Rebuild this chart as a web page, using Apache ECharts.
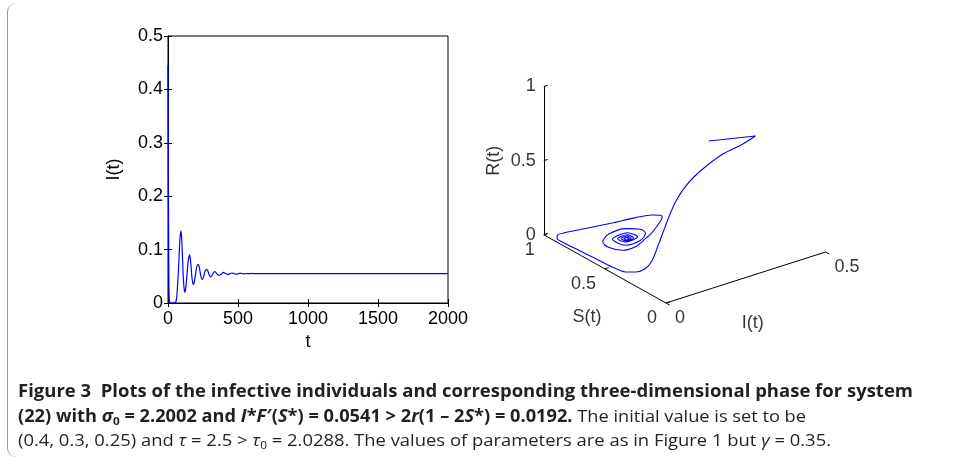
<!DOCTYPE html>
<html>
<head>
<meta charset="utf-8">
<title>Figure 3</title>
<script src="https://cdn.jsdelivr.net/npm/echarts@6/dist/echarts.min.js"></script>
<style>
  html, body { margin: 0; padding: 0; background: #fff; }
  #wrap { position: relative; width: 955px; height: 467px; overflow: hidden; background: #fff; }
  #chart { position: absolute; left: 0; top: 0; width: 955px; height: 467px; }
  #frame { position: absolute; left: 7px; top: 3px; width: 30px; height: 454px; z-index: 2;
           border-left: 1px solid #9a9a9a; border-radius: 9px 0 0 9px; pointer-events: none; }
  .cap { position: absolute; left: 18px; white-space: nowrap; transform-origin: 0 0; z-index: 2;
         font-family: "Open Sans", "Noto Sans", sans-serif; font-size: 17px; line-height: 20px; color: #231f20; }
  .cap b { font-weight: 700; }
  .cap sub { font-size: 11px; vertical-align: -3px; line-height: 0; }
</style>
</head>
<body>
<div id="wrap">
  <div id="chart"></div>
  <div id="frame"></div>
  <div class="cap" id="cap1" data-w="895" style="top:381px"><b>Figure 3&nbsp; Plots of the infective individuals and corresponding three-dimensional phase for system</b></div>
  <div class="cap" id="cap2" data-w="788" style="top:406px"><b>(22) with <i>σ</i><sub>0</sub> = 2.2002 and <i>I</i>*<i>F</i>′(<i>S</i>*) = 0.0541 &gt; 2<i>r</i>(1 – 2<i>S</i>*) = 0.0192.</b> The initial value is set to be</div>
  <div class="cap" id="cap3" data-w="813" style="top:430px">(0.4, 0.3, 0.25) and <i>τ</i> = 2.5 &gt; <i>τ</i><sub>0</sub> = 2.0288. The values of parameters are as in Figure 1 but <i>γ</i> = 0.35.</div>
</div>
<script>
// ---- left panel: I(t) against t ----
const tVals = [0, 2, 4, 6, 8, 12, 20, 40, 55, 62, 70, 78, 85, 93, 100, 107, 114, 121, 128, 136, 145, 155,
  163, 170, 177, 183, 190, 200, 208, 217, 225, 235, 245, 255, 265, 276, 285, 295, 305, 315, 326, 336,
  348, 364, 380, 395, 410, 425, 440, 455, 470, 485, 500, 515, 530, 545, 560, 580, 600, 620, 650, 700,
  800, 1000, 1500, 2000];
const iVals = [0.445, 0.3, 0.15, 0.05, 0.01, 0.002, 0, 0, 0.002, 0.01, 0.04, 0.08, 0.12, 0.135, 0.11,
  0.06, 0.03, 0.02, 0.03, 0.055, 0.08, 0.09, 0.075, 0.05, 0.037, 0.035, 0.042, 0.06, 0.07, 0.0725,
  0.065, 0.05, 0.044, 0.05, 0.06, 0.063, 0.06, 0.052, 0.049, 0.052, 0.057, 0.059, 0.055, 0.0515,
  0.054, 0.0572, 0.0555, 0.0535, 0.0545, 0.0562, 0.0555, 0.054, 0.0545, 0.0558, 0.0552, 0.0544,
  0.0552, 0.0549, 0.0553, 0.055, 0.0551, 0.055, 0.055, 0.055, 0.055, 0.055];

// ---- right panel: phase trajectory (S, I, R) ----
const sVals = [0.43, 0.42, 0.41, 0.40, 0.385, 0.37, 0.35, 0.33, 0.30, 0.27, 0.24, 0.21, 0.19, 0.25,
  0.331, 0.44, 0.577, 0.714, 0.849, 0.896, 0.906, 0.875, 0.776, 0.649, 0.537, 0.447, 0.397, 0.378,
  0.372, 0.361, 0.351, 0.354, 0.408, 0.523, 0.596, 0.596, 0.519, 0.433, 0.400, 0.391, 0.428, 0.555,
  0.485, 0.421, 0.452, 0.527, 0.474, 0.433, 0.454, 0.504, 0.464, 0.440, 0.455, 0.485, 0.461, 0.449, 0.460];
const iPhase = [0.299, 0.441, 0.391, 0.334, 0.277, 0.229, 0.190, 0.156, 0.124, 0.0965, 0.0694, 0.0372,
  0.0085, 0, 0, 0, 0, 0, 0, 0.002, 0.006, 0.02, 0.045, 0.08, 0.11, 0.128, 0.135, 0.133, 0.12, 0.095,
  0.07, 0.04, 0.02, 0.02, 0.03, 0.048, 0.072, 0.086, 0.089, 0.07, 0.037, 0.045, 0.065, 0.072, 0.046,
  0.05, 0.061, 0.064, 0.05, 0.052, 0.057, 0.059, 0.052, 0.054, 0.056, 0.056, 0.055];
const rVals = [0.689, 0.630, 0.606, 0.594, 0.561, 0.522, 0.480, 0.422, 0.357, 0.300, 0.242, 0.166, 0.139,
  0.094, 0.057, 0.040, 0.034, 0.027, 0.021, 0.021, 0.036, 0.059, 0.114, 0.186, 0.253, 0.300, 0.316,
  0.3145, 0.282, 0.245, 0.224, 0.189, 0.154, 0.121, 0.117, 0.156, 0.2135, 0.239, 0.225, 0.195, 0.167,
  0.143, 0.206, 0.203, 0.172, 0.157, 0.200, 0.195, 0.176, 0.167, 0.199, 0.193, 0.180, 0.174, 0.192,
  0.190, 0.184];

const sTicks = [0, 0.5, 1];
const iTicks = [0, 0.5];
const rTicks = [0, 0.5, 1];

// view of the 3-D box (plane units per data unit, y up)
const VS = [-122.2, 68.2];
const VI = [319, 102];
const VR = [0, 148.3];
function proj(s, i, r) {
  return [s * VS[0] + i * VI[0] + r * VR[0], s * VS[1] + i * VI[1] + r * VR[1]];
}

const FONT = 'Liberation Sans';
const chart = echarts.init(document.getElementById('chart'));

const phaseData = sVals.map((s, k) => proj(s, iPhase[k], rVals[k]));

// box edges and tick marks
const seg = (a, b) => ({ coords: [proj(...a), proj(...b)] });
const edges = [seg([1, 0, 1], [1, 0, 0]), seg([1, 0, 0], [0, 0, 0]), seg([0, 0, 0], [0, 0.5, 0])];
rTicks.forEach(r => edges.push(seg([1, 0, r], [1, 0.012, r])));
sTicks.forEach(s => edges.push(seg([s, 0, 0], [s, 0.012, 0])));
iTicks.forEach(i => edges.push(seg([0, i, 0], [-0.03, i, 0])));

function lbl(pt, text, pos, align) {
  return {
    value: pt,
    label: { show: true, formatter: text, position: pos, align: align, verticalAlign: 'middle',
      fontFamily: FONT, fontSize: 18, color: '#000' }
  };
}
const labels3d = [];
rTicks.forEach(r => labels3d.push(lbl(proj(1, 0, r), String(r), [-8, 0], 'right')));
sTicks.forEach(s => labels3d.push(lbl(proj(s, 0, 0), String(s), [-9, 15], 'right')));
iTicks.forEach(i => labels3d.push(lbl(proj(0, i, 0), String(i), [9, 15.5], 'left')));
const titleR = lbl(proj(1, 0, 0.5), 'R(t)', [-50, 0], 'center');
titleR.label.rotate = 90;
labels3d.push(titleR);
labels3d.push(lbl(proj(0.5, 0, 0), 'S(t)', [-18, 48], 'center'));
labels3d.push(lbl(proj(0, 0.25, 0), 'I(t)', [7, 46], 'center'));

const axisText = { fontFamily: FONT, fontSize: 18, color: '#000' };
const blackLine = { lineStyle: { color: '#000', width: 1 } };
const inTick = { inside: true, length: 4, lineStyle: { color: '#000', width: 1 } };

const option = {
  backgroundColor: 'transparent',
  animation: false,
  grid: [
    { left: 168, top: 36, width: 280, height: 267, show: true, borderColor: '#000', borderWidth: 1 },
    { left: 466, top: 63, width: 400, height: 300 }
  ],
  xAxis: [
    { gridIndex: 0, type: 'value', min: 0, max: 2000, interval: 500,
      axisLine: blackLine, axisTick: inTick,
      axisLabel: Object.assign({ margin: 7, formatter: v => String(v) }, axisText), splitLine: { show: false },
      name: 't', nameLocation: 'middle', nameGap: 28, nameTextStyle: axisText },
    { gridIndex: 0, type: 'value', position: 'top', min: 0, max: 2000, interval: 500,
      axisLine: blackLine, axisTick: inTick,
      axisLabel: { show: false }, splitLine: { show: false } },
    { gridIndex: 1, type: 'value', min: -200, max: 200, show: false }
  ],
  yAxis: [
    { gridIndex: 0, type: 'value', min: 0, max: 0.5, interval: 0.1,
      axisLine: blackLine, axisTick: inTick,
      axisLabel: Object.assign({ margin: 5 }, axisText), splitLine: { show: false },
      name: 'I(t)', nameLocation: 'middle', nameGap: 45, nameTextStyle: axisText },
    { gridIndex: 0, type: 'value', position: 'right', min: 0, max: 0.5, interval: 0.1,
      axisLine: blackLine, axisTick: inTick,
      axisLabel: { show: false }, splitLine: { show: false } },
    { gridIndex: 1, type: 'value', min: -60, max: 240, show: false }
  ],
  series: [
    { type: 'line', xAxisIndex: 0, yAxisIndex: 0, showSymbol: false, smooth: 0.2,
      data: tVals.map((t, k) => [t, iVals[k]]),
      lineStyle: { color: '#0000ff', width: 1.2 } },
    { type: 'lines', coordinateSystem: 'cartesian2d', xAxisIndex: 2, yAxisIndex: 2,
      data: edges, lineStyle: { color: '#000', width: 1, opacity: 1 } },
    { type: 'line', xAxisIndex: 2, yAxisIndex: 2, showSymbol: false, smooth: 0.3,
      data: phaseData, lineStyle: { color: '#0000ff', width: 1.1 } },
    { type: 'scatter', xAxisIndex: 2, yAxisIndex: 2, symbolSize: 0, data: labels3d, silent: true }
  ]
};
chart.setOption(option);

// fit each caption line to its printed width
document.querySelectorAll('.cap').forEach(el => {
  const w = el.getBoundingClientRect().width;
  el.style.transform = 'scaleX(' + (parseFloat(el.dataset.w) / w) + ')';
});
</script>
</body>
</html>
